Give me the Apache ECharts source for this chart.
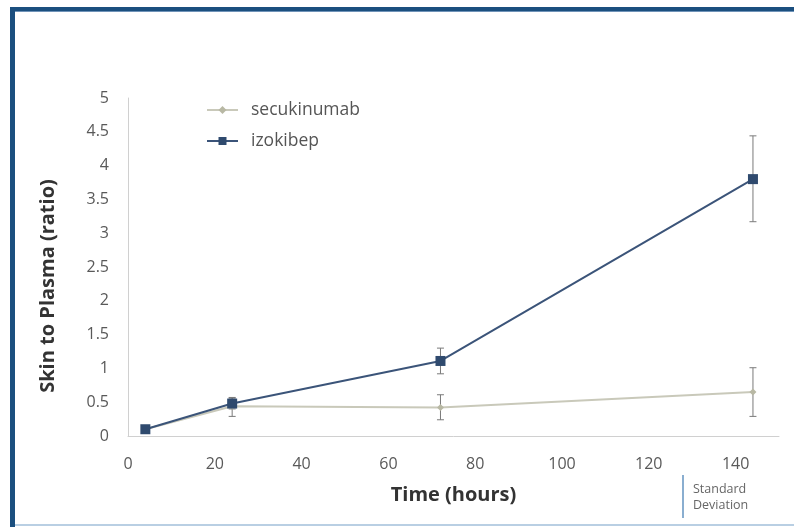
<!DOCTYPE html>
<html><head><meta charset="utf-8">
<script src="https://cdn.jsdelivr.net/npm/echarts@6/dist/echarts.min.js"></script>
<style>html,body{margin:0;padding:0;background:#fff}#c{width:794px;height:527px}</style>
</head><body><div id="c"></div>
<script>
const timeHours = [4, 24, 72, 144];
const secukinumab = [0.1, 0.44, 0.42, 0.65];
const secukinumabLow = [0.08, 0.29, 0.24, 0.29];
const secukinumabHigh = [0.12, 0.57, 0.61, 1.01];
const izokibep = [0.1, 0.48, 1.11, 3.80];
const izokibepLow = [0.08, 0.40, 0.92, 3.17];
const izokibepHigh = [0.12, 0.56, 1.30, 4.44];
const yTicks = [0, 0.5, 1, 1.5, 2, 2.5, 3, 3.5, 4, 4.5, 5];

const font = '"Open Sans", "Noto Sans", sans-serif';
function errData(lo, hi){ return timeHours.map((t,i)=>[t, lo[i], hi[i]]); }
function errSeries(lo, hi){
  return {
    type:'custom', silent:true, z:1,
    data: errData(lo, hi),
    renderItem: function(params, api){
      const p1 = api.coord([api.value(0), api.value(1)]);
      const p2 = api.coord([api.value(0), api.value(2)]);
      const w = 3.5;
      const st = {stroke:'#7a7a7a', lineWidth:1};
      return {type:'group', children:[
        {type:'line', shape:{x1:p1[0],y1:p1[1],x2:p2[0],y2:p2[1]}, style:st},
        {type:'line', shape:{x1:p1[0]-w,y1:p1[1],x2:p1[0]+w,y2:p1[1]}, style:st},
        {type:'line', shape:{x1:p2[0]-w,y1:p2[1],x2:p2[0]+w,y2:p2[1]}, style:st}
      ]};
    }
  };
}
const chart = echarts.init(document.getElementById('c'), null, {renderer:'canvas'});
chart.setOption({
  animation:false,
  textStyle:{fontFamily:font},
  grid:{left:128, right:15, top:98, bottom:91},
  legend:{
    orient:'vertical', left:201, top:96, itemGap:13, itemWidth:31, itemHeight:10,
    textStyle:{fontFamily:font, fontSize:17.5, color:'#555', padding:[0,0,0,8]},
    data:['secukinumab','izokibep']
  },
  xAxis:{
    type:'value', min:0, max:150, interval:20,
    name:'Time (hours)', nameLocation:'middle', nameGap:49,
    nameTextStyle:{fontFamily:font, fontSize:20, fontWeight:'bold', color:'#333'},
    axisLine:{show:true, lineStyle:{color:'#d0d0d0', width:1}},
    axisTick:{show:false},
    splitLine:{show:false},
    axisLabel:{fontFamily:font, fontSize:16, color:'#595959', margin:20, showMaxLabel:false}
  },
  yAxis:{
    type:'value', min:yTicks[0], max:yTicks[yTicks.length-1], interval:0.5,
    name:'Skin to Plasma (ratio)', nameLocation:'middle', nameGap:70, nameRotate:90,
    nameTextStyle:{fontFamily:font, fontSize:20, fontWeight:'bold', color:'#333', padding:[0,38,0,0]},
    axisLine:{show:true, lineStyle:{color:'#d0d0d0', width:1}},
    axisTick:{show:false},
    splitLine:{show:false},
    axisLabel:{fontFamily:font, fontSize:16, color:'#595959', margin:19}
  },
  series:[
    errSeries(secukinumabLow, secukinumabHigh),
    errSeries(izokibepLow, izokibepHigh),
    {
      name:'secukinumab', type:'line', z:3,
      data: timeHours.map((t,i)=>[t, secukinumab[i]]),
      symbol:'diamond', symbolSize:7,
      lineStyle:{color:'#c9c9ba', width:2},
      itemStyle:{color:'#b8b8a4'}
    },
    {
      name:'izokibep', type:'line', z:4,
      data: timeHours.map((t,i)=>[t, izokibep[i]]),
      symbol:'rect', symbolSize:10,
      lineStyle:{color:'#3b5479', width:2},
      itemStyle:{color:'#2f4a6e'}
    }
  ],
  graphic:[
    {type:'rect', shape:{x:10, y:7, width:784, height:4}, style:{fill:'#1b4f7f'}, silent:true},
    {type:'rect', shape:{x:10, y:11, width:784, height:1}, style:{fill:'#6f93b8'}, silent:true},
    {type:'rect', shape:{x:10, y:7, width:5, height:520}, style:{fill:'#1b4f7f'}, silent:true},
    {type:'rect', shape:{x:15, y:524, width:779, height:2}, style:{fill:'#b9cfe3'}, silent:true},
    {type:'line', shape:{x1:683, y1:475, x2:683, y2:518}, style:{stroke:'#8aaed0', lineWidth:2}, silent:true},
    {type:'text', left:693, top:481, style:{text:'Standard\nDeviation', font:'12.5px "Open Sans", sans-serif', fill:'#666', lineHeight:16}, silent:true}
  ]
});
</script>
</body></html>
